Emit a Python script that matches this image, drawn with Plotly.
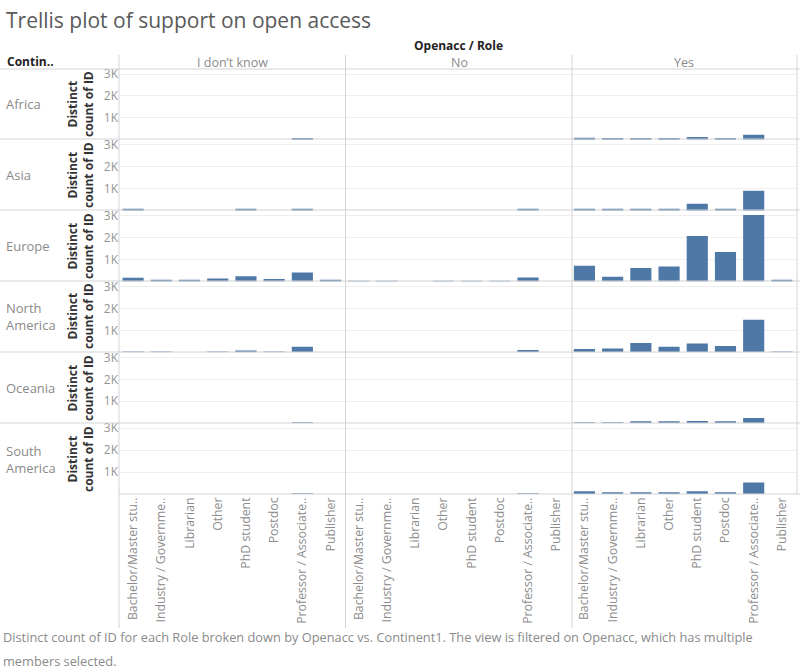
import plotly.graph_objects as go
from plotly.subplots import make_subplots

roles = ["Bachelor/Master stu..", "Industry / Governme..", "Librarian", "Other",
         "PhD student", "Postdoc", "Professor / Associate..", "Publisher"]
openacc = ["I don\u2019t know", "No", "Yes"]
continents = ["Africa", "Asia", "Europe", "North<br>America", "Oceania", "South<br>America"]

africa_idk = [0, 0, 0, 0, 0, 0, 40, 0]
africa_no = [0, 0, 0, 0, 0, 0, 0, 0]
africa_yes = [90, 40, 70, 70, 130, 70, 230, 0]
asia_idk = [40, 0, 0, 0, 40, 0, 90, 0]
asia_no = [0, 0, 0, 0, 0, 0, 90, 0]
asia_yes = [80, 50, 50, 80, 320, 80, 910, 0]
europe_idk = [170, 40, 40, 140, 240, 110, 410, 40]
europe_no = [25, 25, 0, 25, 25, 25, 185, 0]
europe_yes = [715, 215, 620, 680, 2080, 1350, 3030, 60]
namerica_idk = [30, 30, 0, 30, 50, 30, 260, 0]
namerica_no = [0, 0, 0, 0, 0, 0, 110, 0]
namerica_yes = [150, 170, 430, 260, 400, 290, 1490, 30]
oceania_idk = [0, 0, 0, 0, 0, 0, 30, 0]
oceania_no = [0, 0, 0, 0, 0, 0, 0, 0]
oceania_yes = [30, 30, 70, 70, 100, 70, 240, 0]
samerica_idk = [0, 0, 0, 0, 0, 0, 30, 0]
samerica_no = [0, 0, 0, 0, 0, 0, 30, 0]
samerica_yes = [120, 50, 70, 40, 120, 60, 530, 0]

table = [
    [africa_idk, africa_no, africa_yes],
    [asia_idk, asia_no, asia_yes],
    [europe_idk, europe_no, europe_yes],
    [namerica_idk, namerica_no, namerica_yes],
    [oceania_idk, oceania_no, oceania_yes],
    [samerica_idk, samerica_no, samerica_yes],
]
ytick_vals = [1000, 2000, 3000]
ytick_text = ["1K", "2K", "3K"]

W, H = 800, 671
L, R, T, B = 119, 4, 69, 177
PW, PH = W - L - R, H - T - B

def px(x):
    return (x - L) / PW

def py(y):
    return (H - B - y) / PH

FONT = "Open Sans"
BAR = "#4e79a7"
GREY = "#d4d4d4"

fig = make_subplots(rows=6, cols=3, horizontal_spacing=0, vertical_spacing=0)

for r in range(6):
    for c in range(3):
        fig.add_trace(go.Bar(x=list(range(8)), y=table[r][c], marker_color=BAR,
                             marker_line_width=0, width=0.75, showlegend=False,
                             hovertext=roles),
                      row=r + 1, col=c + 1)
        fig.update_yaxes(range=[0, 3230], tickvals=ytick_vals, ticktext=ytick_text,
                         showticklabels=(c == 0), gridcolor="#efefef", gridwidth=1,
                         zeroline=False, showline=False, ticks="",
                         tickfont=dict(family=FONT, size=12, color="#959595"),
                         row=r + 1, col=c + 1)
        fig.update_xaxes(range=[-0.5, 7.5], tickvals=list(range(8)), ticktext=roles,
                         showticklabels=(r == 5), tickangle=-90, showgrid=False,
                         zeroline=False, showline=False, ticks="",
                         tickfont=dict(family=FONT, size=12.3, color="#8c8c8c"),
                         row=r + 1, col=c + 1)

shapes = []
for yy in [69, 139, 210, 281, 352, 423]:
    shapes.append(dict(type="line", xref="paper", yref="paper",
                       x0=px(0), x1=px(800), y0=py(yy), y1=py(yy),
                       line=dict(color=GREY, width=1.2)))
shapes.append(dict(type="line", xref="paper", yref="paper",
                   x0=px(119), x1=px(800), y0=py(494), y1=py(494),
                   line=dict(color=GREY, width=1.2)))
for xx in [119, 345.5, 572]:
    shapes.append(dict(type="line", xref="paper", yref="paper",
                       x0=px(xx), x1=px(xx), y0=py(55), y1=py(628),
                       line=dict(color=GREY, width=1)))
shapes.append(dict(type="line", xref="paper", yref="paper",
                   x0=px(797), x1=px(797), y0=py(55), y1=py(494),
                   line=dict(color=GREY, width=1)))

ann = []
ann.append(dict(text="Trellis plot of support on open access", xref="paper", yref="paper",
                x=px(4), y=py(20), xanchor="left", yanchor="middle", showarrow=False,
                font=dict(family=FONT, size=21, color="#5a5a5a")))
ann.append(dict(text="<b>Openacc / Role</b>", xref="paper", yref="paper",
                x=px(458), y=py(46), xanchor="center", yanchor="middle", showarrow=False,
                font=dict(family=FONT, size=12, color="#222222")))
ann.append(dict(text="<b>Contin..</b>", xref="paper", yref="paper",
                x=px(5), y=py(61), xanchor="left", yanchor="middle", showarrow=False,
                font=dict(family=FONT, size=12, color="#222222")))
col_centers = [232, 459, 684]
for name, cx in zip(openacc, col_centers):
    ann.append(dict(text=name, xref="paper", yref="paper", x=px(cx), y=py(62),
                    xanchor="center", yanchor="middle", showarrow=False,
                    font=dict(family=FONT, size=12.5, color="#8a8a8a")))
row_centers = [104, 175, 246, 316, 388, 459]
for name, cy in zip(continents, row_centers):
    ann.append(dict(text=name, xref="paper", yref="paper", x=px(4), y=py(cy),
                    xanchor="left", yanchor="middle", showarrow=False, align="left",
                    font=dict(family=FONT, size=13, color="#8a8a8a")))
    ann.append(dict(text="<b>Distinct<br>count of ID</b>", xref="paper", yref="paper",
                    x=px(80), y=py(cy), xanchor="center", yanchor="middle",
                    textangle=-90, showarrow=False,
                    font=dict(family=FONT, size=12, color="#333333")))
ann.append(dict(text="Distinct count of ID for each Role broken down by Openacc vs. Continent1. The view is filtered on Openacc, which has multiple",
                xref="paper", yref="paper", x=px(1), y=py(637), xanchor="left",
                yanchor="middle", showarrow=False,
                font=dict(family=FONT, size=12.8, color="#8a8a8a")))
ann.append(dict(text="members selected.", xref="paper", yref="paper", x=px(1), y=py(661),
                xanchor="left", yanchor="middle", showarrow=False,
                font=dict(family=FONT, size=12.8, color="#8a8a8a")))

fig.update_layout(width=W, height=H, margin=dict(l=L, r=R, t=T, b=B),
                  paper_bgcolor="white", plot_bgcolor="white", shapes=shapes,
                  annotations=ann, bargap=0.25, showlegend=False)
fig.write_html("out.html", config={"displayModeBar": False},
               post_script="document.body.style.margin='0';document.body.style.overflow='hidden';")
